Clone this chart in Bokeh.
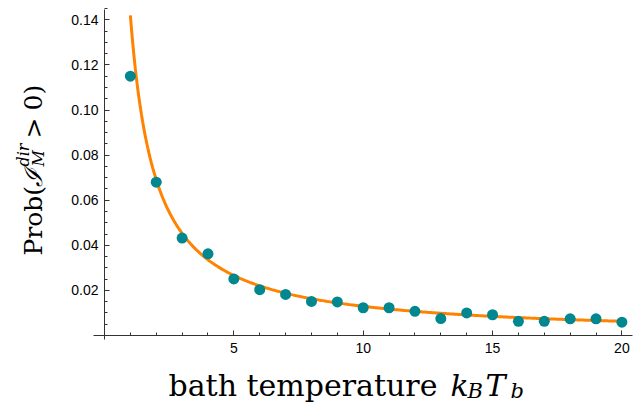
import numpy as np
from bokeh.plotting import figure
from bokeh.models import Range1d, FixedTicker, Label, PrintfTickFormatter
from bokeh.embed import file_html
from bokeh.resources import INLINE

# ---- data ----
temperature = list(range(1, 21))
probability = [0.115, 0.068, 0.0432, 0.0362, 0.0251, 0.0203, 0.0182, 0.0151, 0.0149, 0.0123,
               0.0123, 0.0107, 0.0075, 0.0100, 0.0092, 0.0063, 0.0063, 0.0074, 0.0074, 0.0059]
# fitted curve  a / T^b drawn over [1, 20]
fit_a = 0.142
fit_b = 1.04
curve_range = (1.0, 20.0)

x_major = [5, 10, 15, 20]
x_minor = [1, 2, 3, 4, 6, 7, 8, 9, 11, 12, 13, 14, 16, 17, 18, 19]
y_major = [0.02, 0.04, 0.06, 0.08, 0.10, 0.12, 0.14]
y_minor = [round(0.005 * i, 3) for i in range(1, 30)]
x_axis_extent = (-0.425, 20.41)
y_axis_extent = (-0.0018, 0.1447)

# ---- layout: the frame covers the whole canvas ----
W, H = 641, 402
PX_X, ORIG_X = 25.87, 104.0     # pixels per x unit, pixel column of x = 0
PX_Y, ORIG_Y = 2255.0, 335.0    # pixels per y unit, pixel row of y = 0
X0 = -ORIG_X / PX_X
X1 = X0 + W / PX_X
Y1 = ORIG_Y / PX_Y
Y0 = Y1 - H / PX_Y

p = figure(width=W, height=H, output_backend="svg", toolbar_location=None,
           x_range=Range1d(X0, X1), y_range=Range1d(Y0, Y1),
           min_border=0, min_border_left=0, min_border_right=0,
           min_border_top=0, min_border_bottom=0)
p.outline_line_color = None
p.grid.visible = False
p.background_fill_color = "white"
p.border_fill_color = "white"

def dx(wx):
    return X0 + wx / PX_X

def dy(wy):
    return Y1 - wy / PX_Y

cx = np.linspace(curve_range[0], curve_range[1], 400)
cy = fit_a / cx ** fit_b
p.line(cx, cy, line_color="#ff8200", line_width=3)
p.scatter(temperature, probability, size=11, fill_color="#00878f", line_color=None)

axis_col = "#333333"
for ax in (p.xaxis[0], p.yaxis[0]):
    ax.fixed_location = 0
    ax.axis_line_color = axis_col
    ax.major_tick_line_color = axis_col
    ax.minor_tick_line_color = axis_col
    ax.major_tick_in = 5
    ax.major_tick_out = 0
    ax.minor_tick_in = 3
    ax.minor_tick_out = 0
    ax.major_label_text_font = "Liberation Sans"
    ax.major_label_text_font_size = "14px"
    ax.major_label_text_color = "black"

p.xaxis.ticker = FixedTicker(ticks=x_major, minor_ticks=x_minor)
p.yaxis.ticker = FixedTicker(ticks=y_major, minor_ticks=y_minor)
p.xaxis.bounds = x_axis_extent
p.yaxis.bounds = y_axis_extent
p.yaxis.formatter = PrintfTickFormatter(format="%.2f")
p.xaxis.major_label_standoff = 7
p.yaxis.major_label_standoff = 6

serif = "DejaVu Serif"

def add_text(txt, wx, wy, size, style="normal", angle=0.0):
    p.add_layout(Label(x=dx(wx), y=dy(wy), text=txt, text_font=serif,
                       text_font_size=f"{size}px", text_font_style=style,
                       text_color="black", text_align="left",
                       text_baseline="alphabetic", angle=angle))

# x label: bath temperature k_B T_b
xb = 385
add_text("bath temperature", 168, xb, 30)
add_text("k", 450, xb, 30, "italic")
add_text("B", 467, xb + 5, 21, "italic")
add_text("T", 485, xb, 30, "italic")
add_text("b", 510, xb + 5, 21, "italic")

# y label: Prob(I_M^dir > 0)
yb = 33
a = np.pi / 2
add_text("Prob(", yb, 255, 25, "normal", a)
add_text("\u2110", yb, 186, 25, "italic", a)
add_text("dir", yb - 10, 166, 16, "italic", a)
add_text("M", yb + 5, 166, 16, "italic", a)
add_text(">", yb, 138, 25, "normal", a)
add_text("0)", yb, 110, 25, "normal", a)

open("out.html", "w").write(file_html(p, INLINE))
